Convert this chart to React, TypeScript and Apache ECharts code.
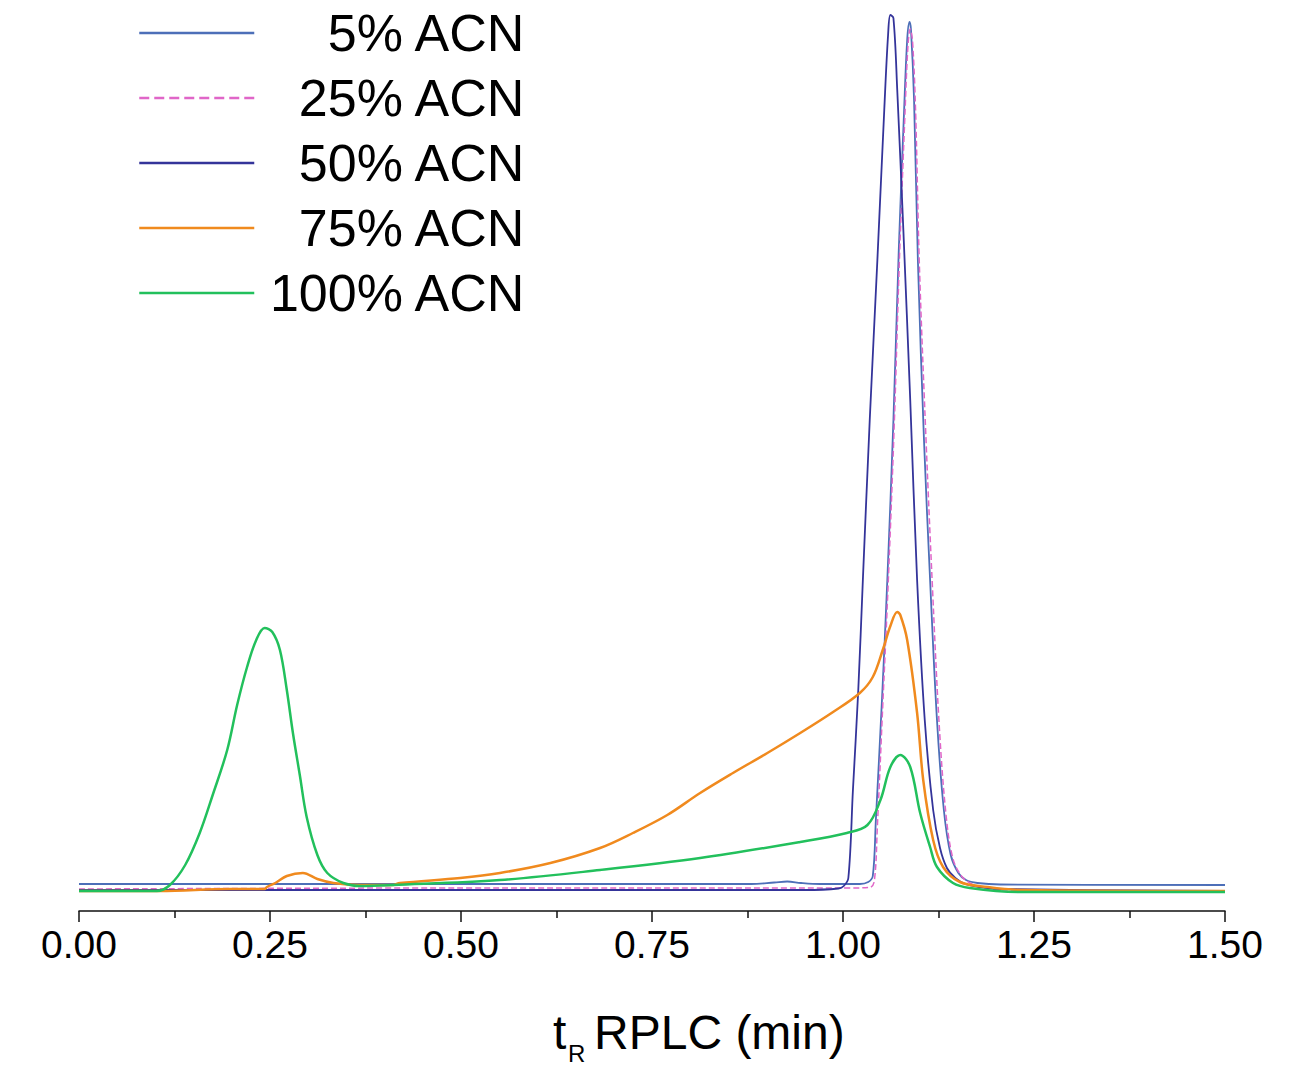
import React, { useEffect, useRef } from "react";
import * as echarts from "echarts";

const seriesNames = ["5% ACN", "25% ACN", "50% ACN", "75% ACN", "100% ACN"];
const xTicks = [0, 0.25, 0.5, 0.75, 1.0, 1.25, 1.5];

const x5 = [0, 0.5, 0.88, 0.91, 0.927, 0.945, 0.97, 1.022, 1.033, 1.039, 1.043, 1.051, 1.058, 1.066, 1.073, 1.08, 1.084, 1.087, 1.089, 1.093, 1.098, 1.106, 1.114, 1.123, 1.132, 1.141, 1.151, 1.161, 1.176, 1.206, 1.5];
const y5 = [2.7, 2.7, 2.7, 2.85, 2.95, 2.8, 2.7, 2.7, 2.9, 3.5, 9.1, 21.1, 33.1, 49.1, 66.1, 80.1, 87.1, 88.9, 88.1, 81.1, 65.1, 47.1, 33.1, 19.1, 10.1, 5.6, 3.8, 3.1, 2.8, 2.65, 2.6];

const x25 = [0, 0.5, 1.0, 1.035, 1.041, 1.045, 1.052, 1.059, 1.067, 1.074, 1.081, 1.085, 1.088, 1.091, 1.095, 1.1, 1.109, 1.117, 1.126, 1.135, 1.144, 1.155, 1.166, 1.179, 1.21, 1.5];
const y25 = [2.2, 2.3, 2.3, 2.35, 3.0, 8.5, 20.5, 32.5, 48.5, 65.5, 79.5, 86.5, 88.2, 87.0, 80.0, 64.5, 46.5, 32.5, 18.5, 9.5, 5.2, 3.5, 2.8, 2.4, 2.1, 2.0];

const x50 = [0, 0.5, 0.95, 0.994, 1.001, 1.007, 1.013, 1.02, 1.026, 1.035, 1.045, 1.054, 1.059, 1.062, 1.066, 1.071, 1.079, 1.088, 1.097, 1.107, 1.118, 1.127, 1.136, 1.147, 1.16, 1.179, 1.206, 1.5];
const y50 = [2.1, 2.1, 2.1, 2.25, 2.5, 3.3, 12.1, 22.1, 33.1, 49.1, 65.1, 80.1, 87.6, 89.6, 89.3, 82.1, 68.1, 51.1, 33.1, 19.1, 10.1, 6.3, 4.3, 3.3, 2.7, 2.4, 2.2, 2.0];

const x75 = [0, 0.106, 0.198, 0.243, 0.246, 0.257, 0.272, 0.293, 0.312, 0.333, 0.368, 0.411, 0.42, 0.499, 0.551, 0.617, 0.682, 0.725, 0.77, 0.813, 0.856, 0.901, 0.944, 0.987, 1.022, 1.039, 1.052, 1.062, 1.071, 1.075, 1.084, 1.097, 1.105, 1.118, 1.131, 1.153, 1.189, 1.232, 1.5];
const y75 = [2.0, 2.0, 2.2, 2.2, 2.4, 2.8, 3.5, 3.8, 3.2, 2.8, 2.6, 2.6, 2.8, 3.3, 3.8, 4.8, 6.3, 7.8, 9.6, 11.8, 13.8, 15.8, 17.8, 19.9, 21.8, 23.4, 26.1, 28.5, 29.9, 29.6, 27.1, 19.8, 13.1, 7.1, 4.4, 2.9, 2.4, 2.1, 2.0];

const x100 = [0, 0.102, 0.119, 0.139, 0.158, 0.175, 0.194, 0.207, 0.22, 0.232, 0.243, 0.253, 0.263, 0.272, 0.28, 0.289, 0.298, 0.312, 0.325, 0.346, 0.368, 0.411, 0.551, 0.682, 0.813, 0.944, 1.005, 1.032, 1.049, 1.062, 1.075, 1.088, 1.101, 1.114, 1.123, 1.144, 1.166, 1.232, 1.5];
const y100 = [2.0, 2.0, 2.6, 4.6, 7.8, 11.6, 16.1, 20.6, 24.4, 27.1, 28.3, 27.9, 26.1, 22.1, 17.8, 13.6, 9.4, 5.6, 3.8, 2.8, 2.5, 2.6, 3.1, 4.1, 5.3, 6.9, 7.8, 8.6, 11.1, 14.4, 15.6, 14.4, 9.8, 6.4, 4.4, 2.8, 2.3, 1.9, 1.9];

const xs = [x5, x25, x50, x75, x100];
const ys = [y5, y25, y50, y75, y100];
const colors = ["#4d6fb8", "#e066c8", "#34349a", "#f08a1e", "#22c05c"];
const widths = [1.8, 1.5, 1.8, 2.5, 2.5];
const lineTypes = ["solid", "dashed", "solid", "solid", "solid"];

const FONT = "Liberation Sans, Arial, sans-serif";

export default function App() {
  const ref = useRef<HTMLDivElement>(null);
  useEffect(() => {
    if (!ref.current) return;
    const chart = echarts.init(ref.current, undefined, { renderer: "svg" });
    const series = seriesNames.map((name, i) => ({
      name,
      type: "line",
      data: xs[i].map((x, j) => [x, ys[i][j]]),
      symbol: "none",
      smooth: 0.35,
      lineStyle: { color: colors[i], width: widths[i], type: lineTypes[i] },
      itemStyle: { color: colors[i] },
      z: i + 2,
    }));
    chart.setOption({
      animation: false,
      backgroundColor: "#ffffff",
      grid: { left: 79, right: 73, top: 11, bottom: 156 },
      legend: {
        orient: "vertical",
        left: 133,
        top: 2,
        itemWidth: 115,
        itemHeight: 20,
        itemGap: 13,
        data: seriesNames,
        itemStyle: { opacity: 0 },
        lineStyle: { width: 2.5 },
        formatter: (n: string) => `{a|${n}}`,
        textStyle: {
          rich: {
            a: {
              width: 265,
              align: "right",
              fontSize: 52,
              lineHeight: 55,
              fontFamily: FONT,
              color: "#000",
            },
          },
        },
      },
      xAxis: {
        type: "value",
        min: 0,
        max: 1.5,
        interval: 0.25,
        axisLine: { lineStyle: { color: "#111", width: 1.5 } },
        axisTick: { length: 11, lineStyle: { color: "#111", width: 1.5 } },
        minorTick: { show: true, splitNumber: 2, length: 7, lineStyle: { color: "#111", width: 1.5 } },
        splitLine: { show: false },
        axisLabel: {
          margin: 14,
          fontSize: 39,
          fontFamily: FONT,
          color: "#000",
          formatter: (v: number) => (xTicks.includes(v) ? v.toFixed(2) : ""),
        },
      },
      yAxis: { type: "value", min: 0, max: 90, show: false },
      series,
      graphic: [
        { type: "text", left: 553, top: 1008, style: { text: "t", fontSize: 48, fontFamily: FONT, fill: "#000" } },
        { type: "text", left: 568, top: 1041, style: { text: "R", fontSize: 24, fontFamily: FONT, fill: "#000" } },
        { type: "text", left: 594, top: 1008, style: { text: "RPLC (min)", fontSize: 48, fontFamily: FONT, fill: "#000" } },
      ],
    });
    return () => chart.dispose();
  }, []);
  return <div ref={ref} style={{ position: "fixed", left: 0, top: 0, width: 1298, height: 1067 }} />;
}
